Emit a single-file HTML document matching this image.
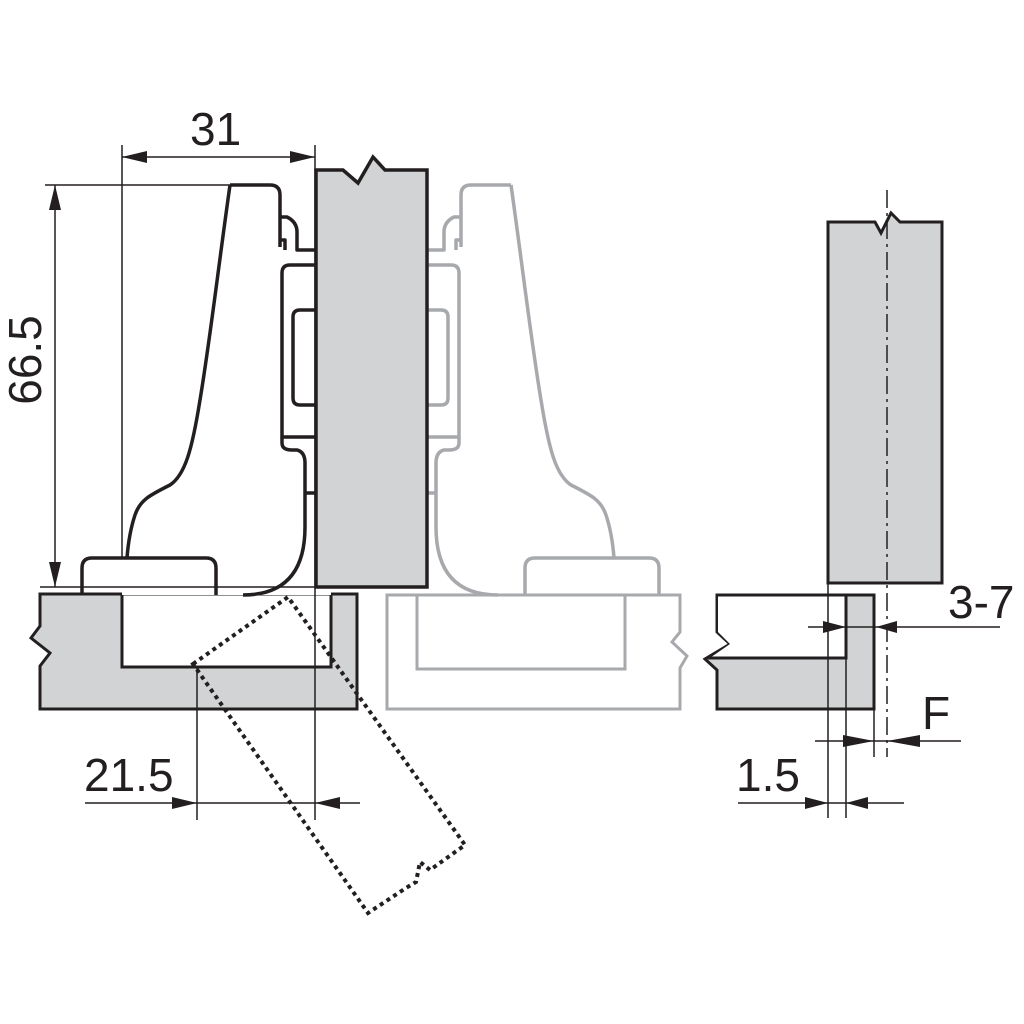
<!DOCTYPE html>
<html><head><meta charset="utf-8"><style>
html,body{margin:0;padding:0;background:#fff;}
svg{display:block;}
text{font-family:"Liberation Sans",Arial,sans-serif;fill:#231f20;}
</style></head><body>
<svg width="1024" height="1024" viewBox="0 0 1024 1024" xmlns="http://www.w3.org/2000/svg">
<defs>
<g id="hinge" fill="none" stroke-width="3.5" stroke-linejoin="round">
  <path d="M230,185 L270,185 Q280,185 280,195 L280,247"/>
  <path d="M280,217 L287,217 Q297,222 297,232 L297,250 L315,250"/>
  <path d="M280,240 L285,240 L285,250"/>
  <path d="M315,265 L290,265 Q282,265 282,273 L282,437 L315,437"/>
  <path d="M315,310 L300,310 Q293,310 293,317 L293,398 Q293,405 300,405 L315,405"/>
  <path d="M282,437 L282,443 Q282,450 292,450 L297,450 Q305,452 305,463 L305,527 Q305,595 243,595"/>
  <path d="M305,493 L315,493"/>
  <path d="M230,185 C218,270 210,340 200,400 C192,450 185,475 170,485 C150,495 140,500 135,515 C130,530 128,545 127,558"/>
  <path d="M82,595 L82,568 Q82,558 92,558 L206,558 Q216,558 216,568 L216,595"/>
</g>
</defs>

<g stroke="#a7a9ac" transform="translate(741,0) scale(-1,1)"><use href="#hinge"/></g>
<path d="M387,595 L680,595 L680,632 L672,642 L687,656 L680,668 L680,709 L387,709 Z" fill="none" stroke="#a7a9ac" stroke-width="3"/>
<path d="M417,595 L417,669 L625,669 L625,595" fill="none" stroke="#a7a9ac" stroke-width="3"/>

<path d="M40,594 L357,594 L357,709 L40,709 L40,666 L50,653 L31,638 L40,626 Z" fill="#d1d3d4" stroke="#231f20" stroke-width="3"/>
<rect x="122" y="594" width="209" height="73" fill="#fff" stroke="#231f20" stroke-width="3"/>
<rect x="122" y="592" width="209" height="3" fill="#fff"/>

<path d="M316,170 L343,170 L358,183 L373,157 L385,170 L427,170 L427,587 L316,587 Z" fill="#d1d3d4" stroke="#231f20" stroke-width="3.5"/>

<g stroke="#231f20"><use href="#hinge"/></g>

<path d="M193,664 L288,597 L465,845 L430,870 L420,862 L416,882 L406,888 L368,913 Z" fill="none" stroke="#231f20" stroke-width="4" stroke-dasharray="4,4"/>

<g stroke="#231f20" stroke-width="1.5" fill="none">
  <line x1="122" y1="145" x2="122" y2="558"/>
  <line x1="315" y1="145" x2="315" y2="820"/>
  <line x1="122" y1="157" x2="315" y2="157"/>
  <line x1="45" y1="185" x2="230" y2="185"/>
  <line x1="40" y1="587" x2="315" y2="587"/>
  <line x1="55" y1="185" x2="55" y2="587"/>
  <line x1="197" y1="667" x2="197" y2="820"/>
  <line x1="85" y1="803" x2="360" y2="803"/>
</g>
<g fill="#231f20">
  <polygon points="122,157 147,151 147,163"/>
  <polygon points="315,157 290,151 290,163"/>
  <polygon points="55,185 49,210 61,210"/>
  <polygon points="55,587 49,562 61,562"/>
  <polygon points="197,803 172,797 172,809"/>
  <polygon points="315,803 340,797 340,809"/>
</g>
<text x="190" y="145" font-size="46">31</text>
<text transform="translate(41,360) rotate(-90)" font-size="46" text-anchor="middle">66.5</text>
<text x="84" y="791" font-size="46">21.5</text>

<path d="M828,222 L875,222 L881,233 L891,213 L900,222 L942,222 L942,583 L828,583 Z" fill="#d1d3d4" stroke="#231f20" stroke-width="3"/>
<path d="M717,595 L874,595 L874,709 L717,709 L717,670 L705,659 L730,644 L717,632 Z" fill="#d1d3d4" stroke="#231f20" stroke-width="3"/>
<path d="M718,596.5 L844.5,596.5 L844.5,656.5 L712,656.5 L730,644 L718,632 Z" fill="#fff"/>
<path d="M846,595 L846,658 L708,658" fill="none" stroke="#231f20" stroke-width="3"/>
<g stroke="#231f20" stroke-width="1.5" fill="none">
  <line x1="887" y1="190" x2="887" y2="757" stroke-dasharray="18,5,3,5"/>
  <line x1="828" y1="583" x2="828" y2="818"/>
  <line x1="846" y1="595" x2="846" y2="818"/>
  <line x1="874" y1="709" x2="874" y2="757"/>
  <line x1="808" y1="627" x2="1000" y2="627"/>
  <line x1="815" y1="741" x2="961" y2="741"/>
  <line x1="738" y1="803" x2="904" y2="803"/>
</g>
<g fill="#231f20">
  <polygon points="846,627 823,621 823,633"/>
  <polygon points="876,627 897,621 897,633"/>
  <polygon points="874,741 843,735 843,747"/>
  <polygon points="887,741 920,735 920,747"/>
  <polygon points="828,803 805,797 805,809"/>
  <polygon points="846,803 868,797 868,809"/>
</g>
<text x="948" y="618" font-size="46">3-7</text>
<text x="922" y="729" font-size="46">F</text>
<text x="736" y="791" font-size="46">1.5</text>
</svg>
</body></html>
